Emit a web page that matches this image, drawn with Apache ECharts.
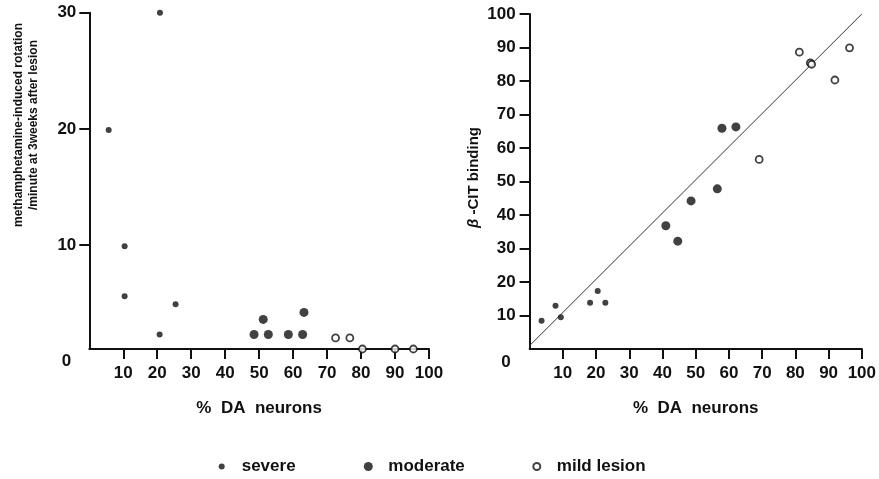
<!DOCTYPE html>
<html><head><meta charset="utf-8">
<script src="https://cdn.jsdelivr.net/npm/echarts@6/dist/echarts.min.js"></script>
<style>html,body{margin:0;padding:0;background:#fff}#c{width:879px;height:479px}</style>
</head><body><div id="c"></div>
<script>
// ---------- data ----------
const xTickValues = [10, 20, 30, 40, 50, 60, 70, 80, 90, 100];
const rotationTickValues = [10, 20, 30];
const bindingTickValues = [10, 20, 30, 40, 50, 60, 70, 80, 90, 100];

// left panel: methamphetamine-induced rotation vs % DA neurons
const rotSevereX   = [5.7, 10.4, 10.4, 20.8, 20.7, 25.4];
const rotSevereY   = [19.9, 9.9, 5.6, 30.0, 2.3, 4.9];
const rotModerateX = [48.5, 51.2, 52.7, 58.6, 62.8, 63.2];
const rotModerateY = [2.3, 3.6, 2.3, 2.3, 2.3, 4.2];
const rotMildX     = [72.5, 76.7, 80.4, 90.0, 95.4];
const rotMildY     = [2.0, 2.0, 1.05, 1.05, 1.05];

// right panel: beta-CIT binding vs % DA neurons
const citSevereX   = [3.6, 7.8, 9.4, 18.2, 20.5, 22.8];
const citSevereY   = [8.4, 12.9, 9.5, 13.8, 17.3, 13.8];
const citModerateX = [41.0, 44.6, 48.6, 56.5, 57.9, 62.1];
const citModerateY = [36.8, 32.2, 44.2, 47.8, 65.9, 66.3];
const citMildX     = [69.1, 81.2, 84.5, 84.9, 91.9, 96.3];
const citMildY     = [56.6, 88.6, 85.4, 85.0, 80.3, 89.9];
const identityX    = [0, 100];
const identityY    = [1, 100];

// ---------- styling / layout ----------
const ink = '#111';
const FONT = '"Liberation Sans", Arial, Helvetica, sans-serif';
const zip = (xs, ys) => xs.map((x, i) => [x, ys[i]]);
const lblFont = {fontFamily: FONT, fontSize: 17, fontWeight: 'bold', color: ink};

const SIZE_SEVERE = 6, SIZE_MODERATE = 9, SIZE_MILD = 7, MILD_BORDER = 1.8;

// left panel geometry: value 0 at y=361.2, axis line at y=349
const L = {left: 89.3, right: 450, top: 12.7, zeroBottom: 479 - 361.2, axisBottom: 479 - 349};
const leftYMax = 30;
const leftYMin = leftYMax * (1 - (479 - L.axisBottom - L.top) / (479 - L.zeroBottom - L.top));

const axisLineStyle = {show: true, onZero: false, lineStyle: {color: ink, width: 2}};
const tickStyle = (vals) => ({show: true, length: 10, customValues: vals, lineStyle: {color: ink, width: 2}});

function xAxisVisible(gridIndex) {
  return {
    gridIndex, type: 'value', min: 0, max: 100, interval: 10,
    axisLine: axisLineStyle, axisTick: tickStyle(xTickValues),
    axisLabel: Object.assign({margin: 16, customValues: xTickValues,
      formatter: v => (v === 0 ? '' : String(v))}, lblFont),
    splitLine: {show: false},
    name: '%  DA  neurons', nameLocation: 'middle', nameGap: 51,
    nameTextStyle: {fontFamily: FONT, fontSize: 17, fontWeight: 'bold', color: ink}
  };
}

const zeroRich = (shiftDown) => ({
  z: {fontFamily: FONT, fontSize: 17, fontWeight: 'bold', color: ink, padding: [shiftDown * 2, 5, 0, 0]}
});

const legendText = {fontFamily: FONT, fontSize: 17, fontWeight: 'bold', color: ink};

const option = {
  animation: false,
  backgroundColor: '#fff',
  grid: [
    {left: L.left, right: L.right, top: L.top, bottom: L.zeroBottom},
    {left: L.left, right: L.right, top: L.top, bottom: L.axisBottom},
    {left: 529.6, right: 12.3, top: 14, bottom: 130}
  ],
  xAxis: [
    {gridIndex: 0, type: 'value', min: 0, max: 100, show: false},
    xAxisVisible(1),
    xAxisVisible(2)
  ],
  yAxis: [
    {gridIndex: 0, type: 'value', min: 0, max: leftYMax, interval: 10,
     axisLine: {show: false}, axisTick: {show: false}, splitLine: {show: false},
     axisLabel: Object.assign({margin: 13, formatter: v => (v === 0 ? '{z|0}' : String(v)), rich: zeroRich(0)}, lblFont)},
    {gridIndex: 1, type: 'value', min: leftYMin, max: leftYMax,
     axisLine: axisLineStyle, axisTick: tickStyle(rotationTickValues),
     axisLabel: {show: false}, splitLine: {show: false}},
    {gridIndex: 2, type: 'value', min: 0, max: 100, interval: 10,
     axisLine: axisLineStyle, axisTick: tickStyle(bindingTickValues), splitLine: {show: false},
     axisLabel: Object.assign({margin: 14, formatter: v => (v === 0 ? '{z|0}' : String(v)), rich: zeroRich(13)}, lblFont),
     name: '{b|β} -CIT binding', nameLocation: 'middle', nameGap: 48,
     nameTextStyle: {fontFamily: FONT, fontSize: 15, fontWeight: 'bold', color: ink, padding: [0, 0, 0, 8],
       rich: {b: {fontFamily: FONT, fontSize: 15, fontWeight: 'bold', fontStyle: 'italic', color: ink}}}}
  ],
  legend: [
    {data: ['severe'], left: 221.7 - SIZE_SEVERE / 2, top: 458, padding: 0, itemWidth: 30, itemHeight: SIZE_SEVERE,
     selectedMode: false, textStyle: legendText},
    {data: ['moderate'], left: 368.3 - SIZE_MODERATE / 2, top: 458, padding: 0, itemWidth: 30, itemHeight: SIZE_MODERATE,
     selectedMode: false, textStyle: legendText},
    {data: ['mild lesion'], left: 536.7 - SIZE_MILD / 2 - MILD_BORDER / 2, top: 458, padding: 0, itemWidth: 30, itemHeight: SIZE_MILD,
     selectedMode: false, textStyle: legendText}
  ],
  graphic: [
    {type: 'text', x: 26, y: 125, rotation: Math.PI / 2,
     style: {text: 'methamphetamine-induced rotation\n/minute at 3weeks after lesion',
       fontFamily: FONT, fontSize: 12, fontWeight: 'bold', fill: ink, lineHeight: 15,
       align: 'center', verticalAlign: 'middle', textAlign: 'center', textVerticalAlign: 'middle'}}
  ],
  series: [
    {type: 'scatter', name: 'severe', xAxisIndex: 0, yAxisIndex: 0, data: zip(rotSevereX, rotSevereY),
     symbolSize: SIZE_SEVERE, itemStyle: {color: ink}},
    {type: 'scatter', name: 'moderate', xAxisIndex: 0, yAxisIndex: 0, data: zip(rotModerateX, rotModerateY),
     symbolSize: SIZE_MODERATE, itemStyle: {color: ink}},
    {type: 'scatter', name: 'mild lesion', xAxisIndex: 0, yAxisIndex: 0, data: zip(rotMildX, rotMildY),
     symbolSize: SIZE_MILD, itemStyle: {color: '#fff', borderColor: ink, borderWidth: MILD_BORDER}},
    {type: 'line', xAxisIndex: 2, yAxisIndex: 2, data: zip(identityX, identityY),
     symbol: 'none', silent: true, lineStyle: {color: '#333', width: 1}, z: 1},
    {type: 'scatter', name: 'severe', xAxisIndex: 2, yAxisIndex: 2, data: zip(citSevereX, citSevereY),
     symbolSize: SIZE_SEVERE, itemStyle: {color: ink}},
    {type: 'scatter', name: 'moderate', xAxisIndex: 2, yAxisIndex: 2, data: zip(citModerateX, citModerateY),
     symbolSize: SIZE_MODERATE, itemStyle: {color: ink}},
    {type: 'scatter', name: 'mild lesion', xAxisIndex: 2, yAxisIndex: 2, data: zip(citMildX, citMildY),
     symbolSize: SIZE_MILD, itemStyle: {color: '#fff', borderColor: ink, borderWidth: MILD_BORDER}}
  ]
};

const chart = echarts.init(document.getElementById('c'), null, {renderer: 'canvas'});
chart.setOption(option);
</script>
</body></html>
